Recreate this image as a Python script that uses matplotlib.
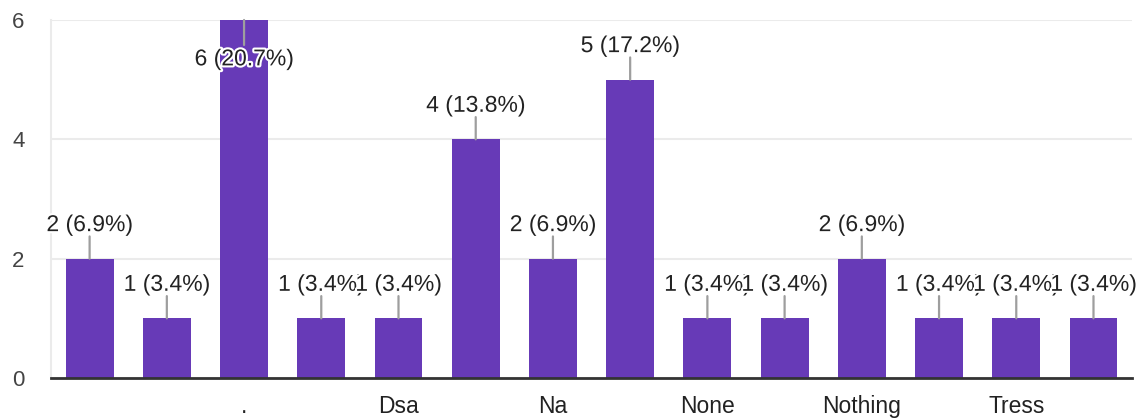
import matplotlib
matplotlib.use("Agg")
import matplotlib.pyplot as plt
import matplotlib.patheffects as pe

categories = ["", "", ".", "", "Dsa", "", "Na", "", "None", "", "Nothing", "", "Tress", ""]
counts = [2, 1, 6, 1, 1, 4, 2, 5, 1, 1, 2, 1, 1, 1]
total = sum(counts)
labels = [f"{c} ({c / total * 100:.1f}%)" for c in counts]

plt.rcParams["font.family"] = ["Liberation Sans", "DejaVu Sans"]

fig = plt.figure(figsize=(11.41, 4.18), dpi=100)
ax = fig.add_axes([0.0447, 0.0957, 0.9475, 0.8565])

x = list(range(len(counts)))
ax.bar(x, counts, width=0.62, color="#673ab7", zorder=2)

ymax = 6
ax.set_xlim(-0.5, len(counts) - 0.5)
ax.set_ylim(0, ymax)

# value labels with a small gray stem, like the forms summary chart
halo = [pe.withStroke(linewidth=3, foreground="white")]
for xi, c, lab in zip(x, counts, labels):
    if c >= ymax:
        ax.annotate("", xy=(xi, c), xytext=(0, -18), textcoords="offset points",
                    arrowprops=dict(arrowstyle="-", color="#9e9e9e", lw=1.6,
                                    shrinkA=0, shrinkB=0), zorder=3)
        ax.annotate(lab, xy=(xi, c), xytext=(0, -28), textcoords="offset points",
                    ha="center", va="center", fontsize=16.5, color="#222222",
                    path_effects=halo, zorder=4)
    else:
        ax.annotate("", xy=(xi, c), xytext=(0, 16), textcoords="offset points",
                    arrowprops=dict(arrowstyle="-", color="#9e9e9e", lw=1.6,
                                    shrinkA=0, shrinkB=0), zorder=3)
        ax.annotate(lab, xy=(xi, c), xytext=(0, 24.5), textcoords="offset points",
                    ha="center", va="center", fontsize=16.5, color="#222222",
                    path_effects=halo, zorder=4, annotation_clip=False)

ax.set_yticks([0, 2, 4, 6])
ax.set_xticks(x)
ax.set_xticklabels(categories)
ax.tick_params(axis="y", length=0, pad=19, labelsize=16, labelcolor="#444444")
ax.tick_params(axis="x", length=0, pad=12, labelsize=16.5, labelcolor="#222222")
ax.grid(axis="y", color="#ebebeb", linewidth=1.5, zorder=0)

for s in ["top", "right"]:
    ax.spines[s].set_visible(False)
ax.spines["left"].set_color("#ebebeb")
ax.spines["left"].set_linewidth(1.5)
ax.spines["bottom"].set_color("#333333")
ax.spines["bottom"].set_linewidth(2)
ax.spines["bottom"].set_zorder(5)

fig.savefig("out.png", dpi=100)
